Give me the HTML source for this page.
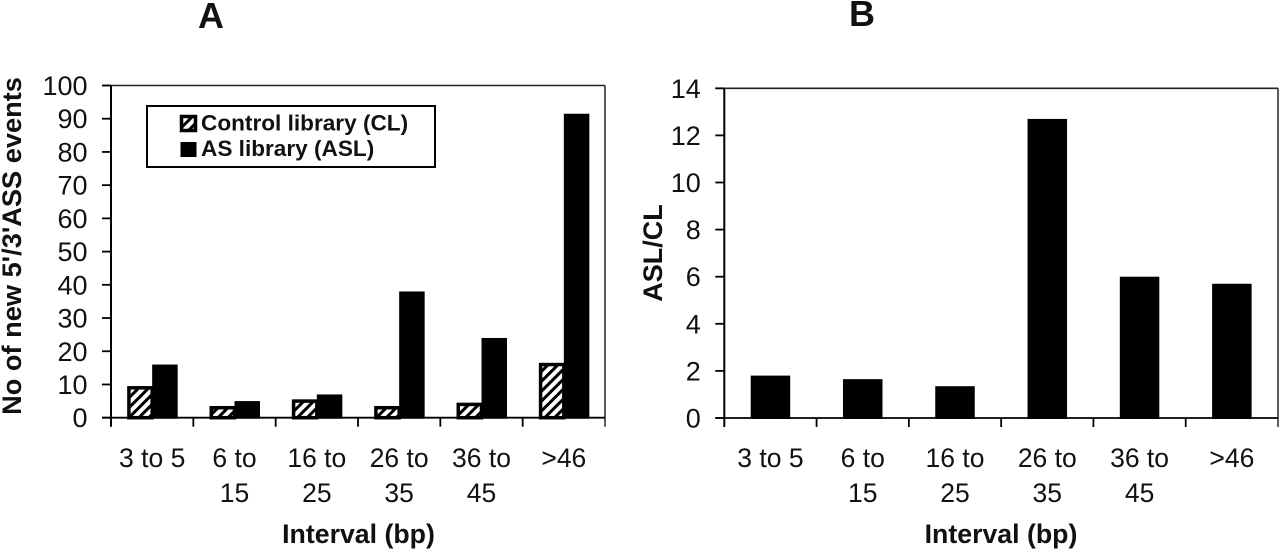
<!DOCTYPE html>
<html lang="en">
<head>
<meta charset="utf-8">
<title>New 5'/3'ASS events by interval</title>
<style>
  html, body { margin: 0; padding: 0; background: #fff; }
  body { width: 1280px; height: 549px; overflow: hidden; }
  svg { display: block; font-family: "Liberation Sans", Arial, sans-serif; fill: #111; }
  .tick { font-size: 26.5px; }
  .ytick { font-size: 27px; }
  .bold { font-weight: bold; }
</style>
</head>
<body>
<svg id="figure" width="1280" height="549" viewBox="0 0 1280 549" xmlns="http://www.w3.org/2000/svg">
  <defs>
    <pattern id="hatch" width="7" height="7" patternUnits="userSpaceOnUse" patternTransform="rotate(45)">
      <rect width="7" height="7" fill="#fff"></rect>
      <rect width="3" height="7" fill="#000"></rect>
    </pattern>
  </defs>
  <rect width="1280" height="549" fill="#fff"></rect>
  <text x="211" y="28" text-anchor="middle" font-size="36" class="bold">A</text>
  <text x="862" y="26" text-anchor="middle" font-size="36" class="bold">B</text>
  <g id="chart-a"></g>
  <g id="chart-b"></g>
  <g>
    <rect x="147" y="106" width="288" height="61" fill="#fff" stroke="#000" stroke-width="2"></rect>
    <rect x="181.500" y="116.500" width="14" height="14" fill="url(#hatch)" stroke="#000" stroke-width="3.500"></rect>
    <text x="201" y="130.5" font-size="22.6" class="bold">Control library (CL)</text>
    <rect x="180.500" y="142" width="16" height="15" fill="#000"></rect>
    <text x="201" y="156" font-size="22.6" class="bold">AS library (ASL)</text>
  </g>
</svg>
<script>
const categories = ["3 to 5", "6 to|15", "16 to|25", "26 to|35", "36 to|45", ">46"];
const controlValues = [9, 3, 5, 3, 4, 16];
const asValues = [16, 5, 7, 38, 24, 91.5];
const ratioValues = [1.8, 1.65, 1.35, 12.7, 6, 5.7];
const ticksA = [0, 10, 20, 30, 40, 50, 60, 70, 80, 90, 100];
const ticksB = [0, 2, 4, 6, 8, 10, 12, 14];

const NS = 'http://www.w3.org/2000/svg';
function make(parent, tag, attrs, text) {
  const el = document.createElementNS(NS, tag);
  for (const k in attrs) el.setAttribute(k, attrs[k]);
  if (text !== undefined) el.textContent = text;
  parent.appendChild(el);
  return el;
}

function drawFrame(group, box, ticks, yMax, prefix) {
  const xOf = i => box.left + (box.right - box.left) * i / categories.length;
  const yOf = v => box.bottom - (box.bottom - box.top) * v / yMax;

  const top = make(group, 'line', { x1: box.left - 9, x2: box.right, y1: box.top, y2: box.top, stroke: '#222', 'stroke-width': 1.6 });
  
  
  const right = make(group, 'line', { x1: box.right, x2: box.right, y1: box.top, y2: box.bottom + 9, stroke: '#333', 'stroke-width': 1.6 });
  
  
  const yAxis = make(group, 'line', { x1: box.left, x2: box.left, y1: box.top, y2: box.bottom + 9, stroke: '#000', 'stroke-width': 2 });
  
  

  ticks.forEach(function (t) {
    const mark = make(group, 'line', { x1: box.left - 9, x2: box.left, y1: yOf(t), y2: yOf(t), stroke: '#000', 'stroke-width': 1.8 });
    
    
    const label = make(group, 'text', { x: box.left - 23.5, y: yOf(t) + 9.5, 'text-anchor': 'end', class: 'ytick' }, String(t));
    
    
  });

  categories.forEach(function (c, i) {
    if (i > 0) {
      const mark = make(group, 'line', { x1: xOf(i), x2: xOf(i), y1: box.bottom, y2: box.bottom + 9, stroke: '#000', 'stroke-width': 1.8 });
      
      
    }
    c.split('|').forEach(function (line, n) {
      const label = make(group, 'text', { x: xOf(i + 0.5), y: 467 + n * 35, 'text-anchor': 'middle', class: 'tick' }, line);
      
      
    });
  });
  return { xOf: xOf, yOf: yOf };
}

function drawBaseline(group, box, prefix) {
  const base = make(group, 'line', { x1: box.left - 9, x2: box.right, y1: box.bottom, y2: box.bottom, stroke: '#000', 'stroke-width': 1.8 });
  
  
}

/* Panel A */
const groupA = document.getElementById('chart-a');
const boxA = { left: 111, right: 605, top: 85.5, bottom: 417.7 };
const scaleA = drawFrame(groupA, boxA, ticksA, 100, 'chart-a');
const barWidthA = 25;
const hatchBorder = 3.5;
categories.forEach(function (c, i) {
  const cx = scaleA.xOf(i + 0.5);
  const hatched = make(groupA, 'rect', {
    x: cx - barWidthA + hatchBorder / 2, y: scaleA.yOf(controlValues[i]),
    width: barWidthA - hatchBorder / 2, height: boxA.bottom - scaleA.yOf(controlValues[i]),
    fill: 'url(#hatch)', stroke: '#000', 'stroke-width': hatchBorder
  });
  
  
  const solid = make(groupA, 'rect', {
    x: cx, y: scaleA.yOf(asValues[i]),
    width: barWidthA + 0.5, height: boxA.bottom - scaleA.yOf(asValues[i]) + 1,
    fill: '#000'
  });
  
  
});
drawBaseline(groupA, boxA, 'chart-a');
const titleYA = make(groupA, 'text', { transform: 'translate(21 246) rotate(-90)', 'text-anchor': 'middle', 'font-size': 27.2, class: 'bold' }, "No of new 5'/3'ASS events");


const titleXA = make(groupA, 'text', { x: 358.5, y: 543, 'text-anchor': 'middle', 'font-size': 26.7, class: 'bold' }, 'Interval (bp)');



/* Panel B */
const groupB = document.getElementById('chart-b');
const boxB = { left: 724.3, right: 1278, top: 88.3, bottom: 418 };
const scaleB = drawFrame(groupB, boxB, ticksB, 14, 'chart-b');
const barWidthB = 39.5;
categories.forEach(function (c, i) {
  const cx = scaleB.xOf(i + 0.5);
  const bar = make(groupB, 'rect', {
    x: cx - barWidthB / 2, y: scaleB.yOf(ratioValues[i]),
    width: barWidthB, height: boxB.bottom - scaleB.yOf(ratioValues[i]) + 1,
    fill: '#000'
  });
  
  
});
drawBaseline(groupB, boxB, 'chart-b');
const titleYB = make(groupB, 'text', { transform: 'translate(662 253) rotate(-90)', 'text-anchor': 'middle', 'font-size': 27, class: 'bold' }, 'ASL/CL');


const titleXB = make(groupB, 'text', { x: 1001, y: 543, 'text-anchor': 'middle', 'font-size': 26.7, class: 'bold' }, 'Interval (bp)');


</script>
</body>
</html>
